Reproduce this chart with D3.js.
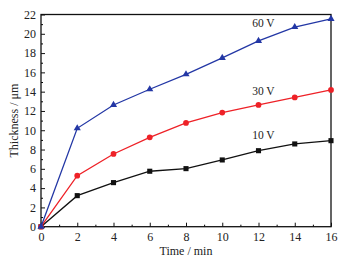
<!DOCTYPE html>
<html lang="en">
<head>
<meta charset="utf-8" />
<script src="https://cdn.jsdelivr.net/npm/d3@7"></script>
<style>
  body { margin: 0; background: white; }
  text { font-family: "Liberation Serif", "DejaVu Serif", serif; fill: #222; }
</style>
</head>
<body>
<script>
// data
var times = [0, 2, 4, 6, 8, 10, 12, 14, 16];
var v10 = [0, 3.22, 4.57, 5.75, 6.02, 6.92, 7.88, 8.58, 8.92];
var v30 = [0, 5.29, 7.54, 9.27, 10.76, 11.83, 12.62, 13.4, 14.18];
var v60 = [0, 10.2, 12.62, 14.25, 15.8, 17.5, 19.26, 20.7, 21.55];
var seriesNames = ["10 V", "30 V", "60 V"];
var xTicks = [0, 2, 4, 6, 8, 10, 12, 14, 16];
var yTicks = [0, 2, 4, 6, 8, 10, 12, 14, 16, 18, 20, 22];

var w = 346, h = 263;
var pad = {left: 41, right: 15, top: 14.5, bottom: 36.3};

var svg = d3.select("body").append("svg")
  .attr("width", w).attr("height", h);

var x = d3.scaleLinear().domain([0, 16]).range([pad.left, w - pad.right]);
var y = d3.scaleLinear().domain([0, 22]).range([h - pad.bottom, pad.top]);

// minor ticks
svg.append("g")
   .attr("transform", "translate(0," + y(0) + ")")
   .call(d3.axisBottom(x).tickValues(d3.range(1, 16, 2)).tickSize(-2).tickFormat(""))
   .call(function(g) { g.select(".domain").remove(); });
svg.append("g")
   .attr("transform", "translate(" + x(0) + ",0)")
   .call(d3.axisLeft(y).tickValues(d3.range(1, 22, 2)).tickSize(-2).tickFormat(""))
   .call(function(g) { g.select(".domain").remove(); });

// major ticks
var xAxis = svg.append("g")
   .attr("transform", "translate(0," + y(0) + ")")
   .call(d3.axisBottom(x).tickValues(xTicks).tickSize(-4).tickPadding(6));
var yAxis = svg.append("g")
   .attr("transform", "translate(" + x(0) + ",0)")
   .call(d3.axisLeft(y).tickValues(yTicks).tickSize(-4).tickPadding(5));
[xAxis, yAxis].forEach(function(g) {
  g.select(".domain").remove();
  g.selectAll("line").attr("stroke", "#111").attr("stroke-width", 1);
  g.selectAll("text").attr("font-size", 12)
   .style("font-family", "'Liberation Serif', serif").attr("fill", "#222");
});

// frame
svg.append("rect")
   .attr("x", x(0)).attr("y", y(22))
   .attr("width", x(16) - x(0)).attr("height", y(0) - y(22))
   .attr("fill", "none").attr("stroke", "#111").attr("stroke-width", 1.3);

var series = [
  {name: seriesNames[0], vals: v10, color: "#111111", shape: d3.symbolSquare, size: 26},
  {name: seriesNames[1], vals: v30, color: "#ee2127", shape: d3.symbolCircle, size: 26},
  {name: seriesNames[2], vals: v60, color: "#2337a5", shape: d3.symbolTriangle, size: 22}
];

var line = d3.line()
  .x(function(d, i) { return x(times[i]); })
  .y(function(d) { return y(d); });

series.forEach(function(s) {
  svg.append("path")
     .datum(s.vals)
     .attr("d", line)
     .attr("fill", "none")
     .attr("stroke", s.color)
     .attr("stroke-width", 1.3);
  svg.selectAll(null)
     .data(s.vals)
     .enter()
     .append("path")
     .attr("transform", function(d, i) { return "translate(" + x(times[i]) + "," + y(d) + ")"; })
     .attr("d", d3.symbol().type(s.shape).size(s.size))
     .attr("fill", s.color);
});

// series labels
var labelPos = [[11.65, 9.1], [11.65, 13.7], [11.65, 20.7]];
series.forEach(function(s, i) {
  svg.append("text")
     .attr("x", x(labelPos[i][0]))
     .attr("y", y(labelPos[i][1]))
     .attr("font-size", 11.5)
     .text(s.name);
});

// axis titles
svg.append("text")
   .attr("x", (x(0) + x(16)) / 2)
   .attr("y", 255)
   .attr("text-anchor", "middle")
   .attr("font-size", 12)
   .text("Time / min");
svg.append("text")
   .attr("transform", "translate(18," + (y(11)) + ") rotate(-90)")
   .attr("text-anchor", "middle")
   .attr("font-size", 12)
   .text("Thickness / μm");
</script>
</body>
</html>
